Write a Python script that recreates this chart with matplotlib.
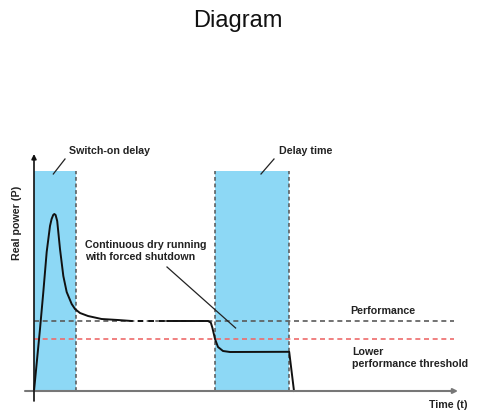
import matplotlib
matplotlib.use("Agg")
import matplotlib.pyplot as plt

plt.rcParams['font.family'] = ['Liberation Sans', 'DejaVu Sans']

# power curve (time t, real power P)
t_start = [0, 1.5, 2.33, 3.17, 4.0, 4.4, 4.8, 5.08, 5.4, 5.8, 6.5, 7.33, 8.17, 9.42,
           10.25, 11.5, 13.5, 16.9, 21.0, 24.4]
p_start = [0, 15.5, 24.75, 34.75, 41.25, 43.0, 44.0, 44.25, 44.0, 42.5, 35.5, 28.75,
           24.75, 21.75, 20.5, 19.5, 18.75, 18.0, 17.75, 17.5]
t_gap = [24.4, 33.4]
p_gap = [17.5, 17.5]
t_end = [33.4, 43.5, 44.2, 44.6, 45.25, 46.0, 47.25, 49.0, 63.8, 65.0]
p_end = [17.5, 17.5, 17.1, 15.8, 13.0, 11.0, 10.0, 9.75, 9.8, 0]

# shaded windows: (start, end)
windows = [(0, 10.5), (45.25, 63.75)]
window_height = 55
performance = 17.5
lower_threshold = 13.0
line_end = 105

fig = plt.figure(figsize=(4.78, 4.14), dpi=100)
ax = fig.add_axes([0, 0, 1, 1])
ax.set_xlim(-8.5, 111)
ax.set_ylim(-5.5, 98)
ax.axis('off')

blue = '#8dd8f5'
dash_gray = '#555555'
for a, b in windows:
    ax.bar(a, window_height, width=b - a, align='edge', color=blue, zorder=1)
    for x in (a, b):
        if x == 0:
            continue
        ax.plot([x, x], [0, window_height], color=dash_gray, lw=1.1,
                dashes=(2.5, 1.8), zorder=2)

ax.plot([0, line_end], [performance, performance], color='#5a5a5a', lw=1.2,
        dashes=(3, 2.2), zorder=2)
ax.plot([0, line_end], [lower_threshold, lower_threshold], color='#ee6b6b', lw=1.2,
        dashes=(3, 2.2), zorder=2)

ax.plot(t_start, p_start, color='#111111', lw=1.4, zorder=3, solid_joinstyle='round')
ax.plot(t_gap, p_gap, color='#111111', lw=1.4, ls=(2.6, (2.9, 2.6)), zorder=3)
ax.plot(t_end, p_end, color='#111111', lw=1.4, zorder=3, solid_joinstyle='round')

# axes arrows
ax.annotate('', xy=(106, 0), xytext=(-2.25, 0),
            arrowprops=dict(arrowstyle='-|>', color='#777777', lw=1.5,
                            mutation_scale=7, shrinkA=0, shrinkB=0), zorder=4)
ax.annotate('', xy=(0, 59.25), xytext=(0, -2.5),
            arrowprops=dict(arrowstyle='-|>', color='#111111', lw=1.2,
                            mutation_scale=7, shrinkA=0, shrinkB=0), zorder=4)

# callouts
lw_c = 0.9
ax.plot([4.83, 7.75], [54.25, 58.0], color='#222222', lw=lw_c, zorder=4)
ax.plot([56.75, 60.0], [54.25, 58.0], color='#222222', lw=lw_c, zorder=4)
ax.plot([33.25, 50.4], [31.0, 15.75], color='#222222', lw=lw_c, zorder=4)

fs = 7.7
tc = '#222222'
ax.text(8.75, 60.25, 'Switch-on delay', fontsize=fs, fontweight='bold', color=tc,
        va='center', ha='left')
ax.text(61.25, 60.3, 'Delay time', fontsize=fs, fontweight='bold', color=tc,
        va='center', ha='left')
ax.text(12.75, 35.35, 'Continuous dry running\nwith forced shutdown', fontsize=fs,
        fontweight='bold', color=tc, va='center', ha='left', linespacing=1.25)
ax.text(79, 20.25, 'Performance', fontsize=fs, fontweight='bold', color=tc,
        va='center', ha='left')
ax.text(79.5, 8.6, 'Lower\nperformance threshold', fontsize=fs, fontweight='bold',
        color=tc, va='center', ha='left', linespacing=1.25)
ax.text(108.5, -3.25, 'Time (t)', fontsize=fs, fontweight='bold', color=tc,
        va='center', ha='right')
ax.text(-4.25, 42.25, 'Real power (P)', fontsize=fs, fontweight='bold', color=tc,
        va='center', ha='center', rotation=90)

fig.text(237.6 / 478, 1 - 27.3 / 414, 'Diagram', fontsize=17, ha='center',
         va='baseline', color='#111111')

fig.savefig('out.png', dpi=100)
